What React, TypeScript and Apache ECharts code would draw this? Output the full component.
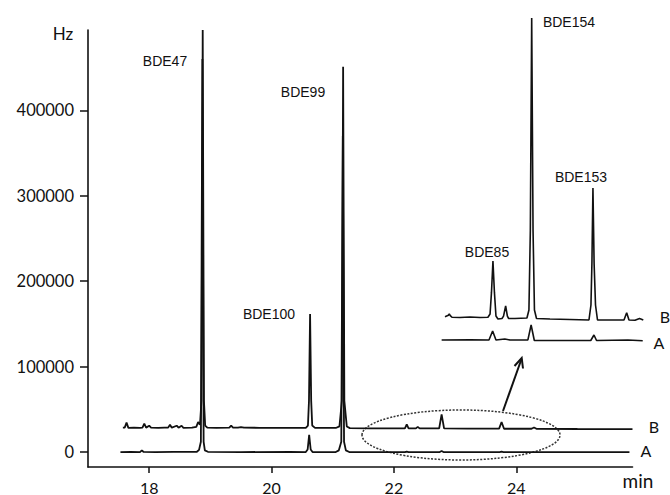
import React, { useEffect, useRef } from "react";
import * as echarts from "echarts";

// ---- data ----
const xTicks = [18, 20, 22, 24];
const yTicks = [0, 100000, 200000, 300000, 400000];

// Trace A (lower chromatogram), [minutes, Hz]
const traceA: [number, number][] = [
  [17.53, 0], [17.7, 200], [17.85, 0], [17.88, 2000], [17.91, 100], [18.1, 0],
  [18.4, 300], [18.6, 100], [18.78, 300], [18.815, 2500], [18.845, 12000],
  [18.87, 460000], [18.89, 12000], [18.91, 2000], [18.96, 300], [19.5, 0],
  [20.3, 100], [20.56, 0], [20.59, 3000], [20.615, 20000], [20.64, 3000],
  [20.67, 0], [21.05, 0], [21.1, 2000], [21.14, 12000], [21.165, 370000],
  [21.185, 12000], [21.215, 2000], [21.27, 0], [22.18, 0], [22.21, 600],
  [22.24, 0], [22.75, 0], [22.78, 1200], [22.81, 0], [23.73, 0], [23.76, 500],
  [23.79, 0], [25.85, 0],
];

// Trace B (upper chromatogram), [minutes, Hz]
const traceB: [number, number][] = [
  [17.57, 28500], [17.6, 28600], [17.63, 34400], [17.66, 28300], [17.75, 28500],
  [17.85, 28400], [17.89, 28700], [17.92, 33200], [17.95, 28600], [18.0, 30800],
  [18.03, 28500], [18.15, 28300], [18.25, 28500], [18.31, 28600], [18.34, 32000],
  [18.37, 28500], [18.45, 30800], [18.48, 28500], [18.53, 30800], [18.56, 28400],
  [18.7, 28500], [18.77, 29500], [18.8, 35000], [18.83, 32000], [18.855, 60000],
  [18.875, 494000], [18.895, 60000], [18.915, 31000], [18.95, 28500],
  [19.1, 28300], [19.31, 28600], [19.34, 31000], [19.37, 28500], [19.45, 28700],
  [19.5, 29300], [19.55, 28500], [19.8, 28400], [20.2, 28300], [20.56, 28400],
  [20.595, 31000], [20.612, 60000], [20.63, 161600], [20.648, 60000],
  [20.665, 31000], [20.71, 28300], [21.05, 28200], [21.11, 30000],
  [21.15, 60000], [21.17, 451000], [21.19, 60000], [21.23, 30000],
  [21.28, 28000], [21.6, 27800], [22.0, 27700], [22.18, 27800], [22.21, 32400],
  [22.24, 27700], [22.36, 27700], [22.39, 29500], [22.42, 27700], [22.74, 27800],
  [22.78, 44000], [22.82, 27600], [23.2, 27500], [23.72, 27400], [23.76, 35200],
  [23.8, 27300], [24.25, 27300], [24.29, 28800], [24.33, 27200], [25.0, 27000],
  [25.9, 26800],
];

// Inset (enlarged 21.4–24.5 min window), [minutes, Hz of the enlarged view]
const insetB: [number, number][] = [
  [21.447, 1272], [21.5, 1350], [21.514, 1419], [21.53, 1330], [21.556, 1239],
  [21.68, 1228], [21.837, 1255], [21.993, 1228], [22.117, 1239], [22.15, 1419],
  [22.172, 2600], [22.195, 4318], [22.218, 2600], [22.242, 1310], [22.273, 1146],
  [22.336, 1173], [22.36, 1300], [22.393, 1857], [22.42, 1300], [22.44, 1173],
  [22.538, 1173], [22.725, 1200], [22.756, 1638], [22.778, 6000], [22.799, 17610],
  [22.82, 6000], [22.842, 1638], [22.874, 1173], [23.084, 1146], [23.396, 1118],
  [23.692, 1091], [23.723, 1912], [23.738, 4200], [23.754, 8311], [23.772, 4200],
  [23.794, 1912], [23.825, 1091], [24.02, 1091], [24.238, 1091], [24.28, 1490],
  [24.316, 1091], [24.41, 1075], [24.48, 1173], [24.539, 1091],
];

const insetA: [number, number][] = [
  [21.395, 0], [21.837, 10], [22.133, 0], [22.19, 489], [22.242, 0], [22.38, 50],
  [22.46, 0], [22.74, 0], [22.79, 817], [22.84, -30], [23.23, -30], [23.72, -30],
  [23.77, 270], [23.81, -30], [24.3, 0], [24.53, -40],
];

const traceNames = ["A", "B"];
const peakNames = ["BDE47", "BDE100", "BDE99", "BDE85", "BDE154", "BDE153"];
const axisNames = { y: "Hz", x: "min" };

const INK = "#111";
const labelFont = "14px 'Liberation Sans', Arial, sans-serif";
const axisFont = "16px Lato, 'Open Sans', sans-serif";

export default function App() {
  const ref = useRef<HTMLDivElement>(null);

  useEffect(() => {
    if (!ref.current) return;
    const chart = echarts.init(ref.current, null, { renderer: "svg" });

    const lineSeries = (
      data: [number, number][],
      idx: number,
      width = 1.6
    ) => ({
      type: "line",
      xAxisIndex: idx,
      yAxisIndex: idx,
      data,
      showSymbol: false,
      symbol: "none",
      clip: false,
      smooth: false,
      lineStyle: { color: INK, width },
      silent: true,
    });

    const txt = (text: string, x: number, y: number, font: string) => ({
      type: "text",
      x,
      y,
      silent: true,
      style: {
        text,
        font,
        fill: INK,
        align: "center",
        verticalAlign: "middle",
      },
    });

    chart.setOption({
      animation: false,
      backgroundColor: "#fff",
      grid: [
        { left: 88, top: 30, width: 544.5, height: 437 },
        { left: 441, top: 10, width: 203, height: 340 },
      ],
      xAxis: [
        {
          type: "value",
          gridIndex: 0,
          min: 17,
          max: 25.9,
          axisLine: { show: true, onZero: false, lineStyle: { color: INK, width: 1.6 } },
          axisTick: {
            show: true,
            length: 6,
            customValues: xTicks,
            lineStyle: { color: INK, width: 1.5 },
          },
          axisLabel: {
            customValues: xTicks,
            margin: 12,
            color: INK,
            fontFamily: "Lato, 'Open Sans', sans-serif",
            fontSize: 16,
            formatter: (v: number) => String(v),
          },
          splitLine: { show: false },
        },
        {
          type: "value",
          gridIndex: 1,
          min: 21.385,
          max: 24.55,
          show: false,
        },
      ],
      yAxis: [
        {
          type: "value",
          gridIndex: 0,
          min: -17500,
          max: 494000,
          axisLine: { show: true, onZero: false, lineStyle: { color: INK, width: 1.6 } },
          axisTick: {
            show: true,
            length: 8,
            customValues: yTicks,
            lineStyle: { color: INK, width: 1.5 },
          },
          axisLabel: {
            customValues: yTicks,
            margin: 14,
            color: INK,
            fontFamily: "Lato, 'Open Sans', sans-serif",
            fontSize: 16.5,
            formatter: (v: number) => String(v),
          },
          splitLine: { show: false },
        },
        {
          type: "value",
          gridIndex: 1,
          min: -550,
          max: 18050,
          show: false,
        },
      ],
      series: [
        lineSeries(traceA, 0, 1.8),
        lineSeries(traceB, 0, 1.8),
        lineSeries(insetA, 1),
        lineSeries(insetB, 1),
      ],
      graphic: [
        txt(axisNames.y, 63, 33, "17px Lato, 'Open Sans', sans-serif"),
        txt(axisNames.x, 638, 480, "19px Lato, 'Open Sans', sans-serif"),
        txt(peakNames[0], 165, 61, labelFont),
        txt(peakNames[1], 269, 314, labelFont),
        txt(peakNames[2], 303, 92, labelFont),
        txt(peakNames[3], 487, 252, labelFont),
        txt(peakNames[4], 569, 22, labelFont),
        txt(peakNames[5], 581, 177, labelFont),
        txt(traceNames[1], 654, 426, axisFont),
        txt(traceNames[0], 646, 450, axisFont),
        txt(traceNames[1], 665, 316, axisFont),
        txt(traceNames[0], 659, 342, axisFont),
        {
          type: "ellipse",
          silent: true,
          shape: { cx: 461, cy: 435, rx: 99, ry: 25 },
          style: { fill: "none", stroke: "#333", lineWidth: 1.5, lineDash: [2, 1.5] },
        },
        {
          type: "line",
          silent: true,
          shape: { x1: 503, y1: 411, x2: 521.5, y2: 359 },
          style: { stroke: INK, lineWidth: 2 },
        },
        {
          type: "polyline",
          silent: true,
          shape: { points: [[514.5, 366], [521.7, 358], [523, 368.5]] },
          style: { stroke: INK, lineWidth: 2, fill: "none" },
        },
      ],
    });

    return () => chart.dispose();
  }, []);

  return (
    <div
      ref={ref}
      style={{ position: "fixed", left: 0, top: 0, width: 670, height: 495 }}
    />
  );
}
